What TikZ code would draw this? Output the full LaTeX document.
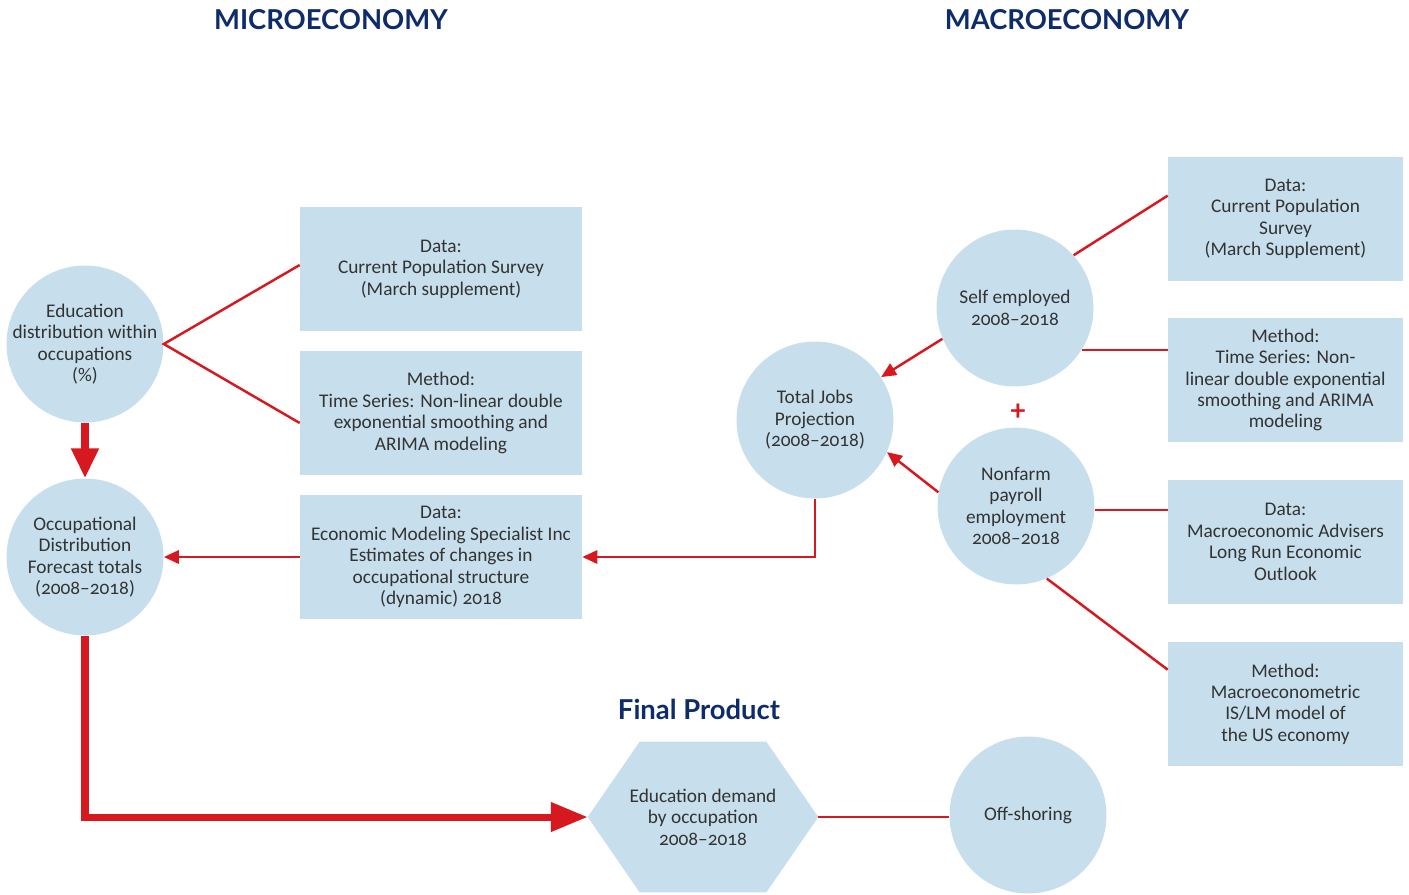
\documentclass[tikz,border=0pt]{standalone}
\usepackage{fontspec}
\setmainfont{Carlito}[Numbers=OldStyle]
\newfontfamily\titlefont{Lato}
\usetikzlibrary{arrows.meta,calc}
\definecolor{boxblue}{HTML}{C7DFEC}
\definecolor{rd}{HTML}{D7191F}
\definecolor{navy}{HTML}{0E2C6B}
\definecolor{txt}{HTML}{333333}
\tikzset{
  bodyfont/.style={font=\fontsize{11}{12.2}\selectfont, text=txt, align=center},
  circ/.style={bodyfont, circle, fill=boxblue, inner sep=0pt, minimum size=3.14cm},
  bigbox/.style={bodyfont, rectangle, fill=boxblue, inner sep=0pt, minimum width=5.64cm, minimum height=2.48cm},
  rbox/.style={bodyfont, rectangle, fill=boxblue, inner sep=0pt, minimum width=4.7cm, minimum height=2.48cm},
  title/.style={font=\titlefont\fontsize{15.6}{19}\selectfont\bfseries, text=navy},
  thin/.style={draw=rd, line width=1.4pt},
  thinarrow/.style={thin, -{Triangle[length=8.5pt,width=7.5pt]}},
  thickarrow/.style={draw=rd, line width=4pt, -{Triangle[length=17pt,width=15pt]}},
}
\begin{document}
\begin{tikzpicture}[x=0.02cm,y=-0.02cm]
\useasboundingbox (0,0) rectangle (1409,894);
% titles
\node[title] (micro) at (331,20) {MICROECONOMY};
\node[title] (macro) at (1067,20) {MACROECONOMY};
\node[title] (final) at (699,709) {Final Product};
% left side
\node[circ, inner sep=-6pt] (edu) at (85,344) {Education\\distribution within\\occupations\\(\%)};
\node[circ] (occ) at (85,557) {Occupational\\Distribution\\Forecast totals\\(2008–2018)};
\node[bigbox] (cps) at (441,269) {Data:\\Current Population Survey\\(March supplement)};
\node[bigbox] (meth) at (441,413) {Method:\\Time Series: Non-linear double\\exponential smoothing and\\ARIMA modeling};
\node[bigbox] (emsi) at (441,557) {Data:\\Economic Modeling Specialist Inc\\Estimates of changes in\\occupational structure\\(dynamic) 2018};
% right side
\node[circ] (tj) at (815,420) {Total Jobs\\Projection\\(2008–2018)};
\node[circ] (se) at (1015,308) {Self employed\\2008–2018};
\node[circ] (nf) at (1016,506) {Nonfarm\\payroll\\employment\\2008–2018};
\node[text=rd, font=\titlefont\fontsize{16}{16}\selectfont\bfseries] (plus) at (1018,412) {+};
\node[rbox] (cps2) at (1285.5,219) {Data:\\Current Population\\Survey\\(March Supplement)};
\node[rbox] (meth2) at (1285.5,380) {Method:\\Time Series: Non-\\linear double exponential\\smoothing and ARIMA\\modeling};
\node[rbox] (data2) at (1285.5,542) {Data:\\Macroeconomic Advisers\\Long Run Economic\\Outlook};
\node[rbox] (meth3) at (1285.5,704) {Method:\\Macroeconometric\\IS/LM model of\\the US economy};
% final product
\node[bodyfont, minimum width=4.6cm, minimum height=3cm, inner sep=0pt] (hex) at (703,817) {};
\fill[boxblue] (hex.west) -- ([xshift=1.04cm]hex.north west) -- ([xshift=-1.04cm]hex.north east) -- (hex.east) -- ([xshift=-1.04cm]hex.south east) -- ([xshift=1.04cm]hex.south west) -- cycle;
\node[bodyfont] (hextext) at (hex.center) {Education demand\\by occupation\\2008–2018};
\node[circ] (off) at (1028,815) {Off-shoring};
% connectors left
\draw[thin] ([yshift=0.08cm]cps.west) -- (edu.east) -- ([yshift=-0.2cm]meth.west);
\draw[thinarrow] (emsi.west) -- (occ.east);
\draw[thickarrow] (edu.south) -- (occ.north);
\draw[thickarrow, -{Triangle[length=21pt,width=16pt]}] (occ.south) |- (hex.west);
% connectors right
\draw[thinarrow] (tj.south) |- (emsi.east);
\draw[thinarrow] (se.203) -- (tj.33);
\draw[thinarrow] (nf.170) -- (tj.-24);
\draw[thin] (se.42) -- ([yshift=-0.78cm]cps2.north west);
\draw[thin] (se.-32.5) -- (se.-32.5 -| meth2.west);
\draw[thin] (nf.-3) -- (nf.-3 -| data2.west);
\draw[thin] (nf.-67) -- ([yshift=-0.56cm]meth3.north west);
\draw[thin] (hex.east) -- (hex.east -| off.west);
\end{tikzpicture}
\end{document}
